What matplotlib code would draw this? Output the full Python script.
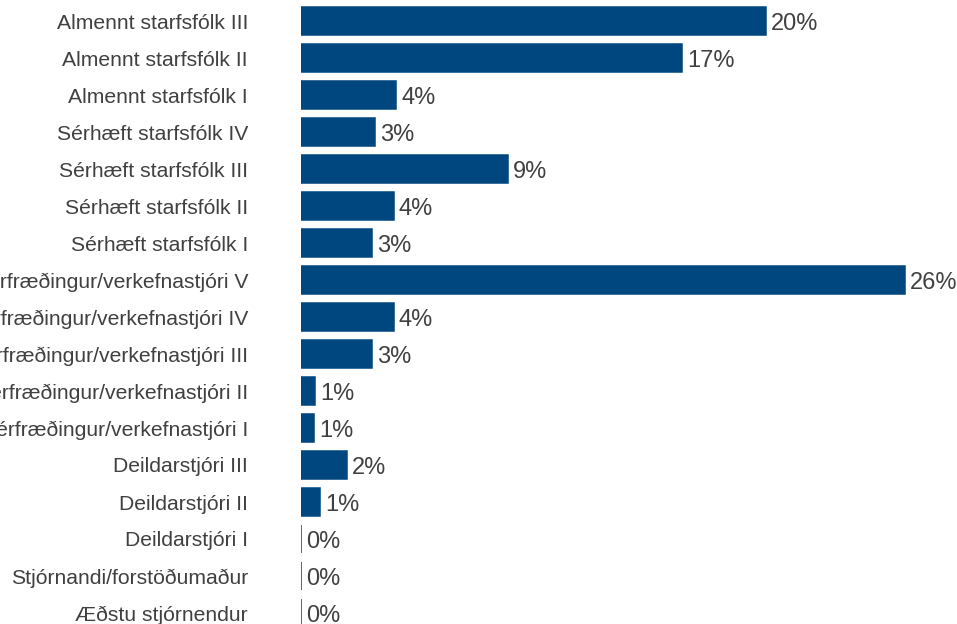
import matplotlib.pyplot as plt
import numpy as np

plt.rcParams["font.family"] = ["Liberation Sans", "DejaVu Sans"]

BAR = "#00467F"
TXT = "#404040"

categories = [
    "Almennt starfsfólk III",
    "Almennt starfsfólk II",
    "Almennt starfsfólk I",
    "Sérhæft starfsfólk IV",
    "Sérhæft starfsfólk III",
    "Sérhæft starfsfólk II",
    "Sérhæft starfsfólk I",
    "Sérfræðingur/verkefnastjóri V",
    "Sérfræðingur/verkefnastjóri IV",
    "Sérfræðingur/verkefnastjóri III",
    "Sérfræðingur/verkefnastjóri II",
    "Sérfræðingur/verkefnastjóri I",
    "Deildarstjóri III",
    "Deildarstjóri II",
    "Deildarstjóri I",
    "Stjórnandi/forstöðumaður",
    "Æðstu stjórnendur",
]
values = [20.0, 16.4, 4.1, 3.2, 8.9, 4.0, 3.05, 26.0, 4.0, 3.05, 0.6, 0.56, 2.0, 0.82, 0.0, 0.0, 0.0]
labels = ["20%", "17%", "4%", "3%", "9%", "4%", "3%", "26%", "4%", "3%", "1%", "1%", "2%", "1%", "0%", "0%", "0%"]

W, H = 957, 624
fig = plt.figure(figsize=(W / 100, H / 100), dpi=100)

px_per_unit = 23.24
x0 = 301
xmax = 28
ax = fig.add_axes([x0 / W, 1 - 631.5 / H, xmax * px_per_unit / W, 629 / H])

y = np.arange(len(categories))
ax.barh(y, values, height=0.75, color=BAR, edgecolor=BAR, linewidth=1.1)

# value labels, digits centred on the bar
for yi, v, lab in zip(y, values, labels):
    ax.annotate(lab, xy=(v, yi), xytext=(3.5, -6.2), textcoords="offset points",
                va="baseline", ha="left", fontsize=17, color=TXT)

ax.set_xlim(0, xmax)
ax.set_ylim(len(categories) - 0.5, -0.5)
ax.set_yticks(y)
ax.set_yticklabels(categories, fontsize=15.2, color=TXT)
ax.tick_params(axis="y", length=0, pad=53 * 72 / 100)
ax.set_xticks([])
for s in ax.spines.values():
    s.set_visible(False)

fig.savefig("out.png", dpi=100, facecolor="white")
